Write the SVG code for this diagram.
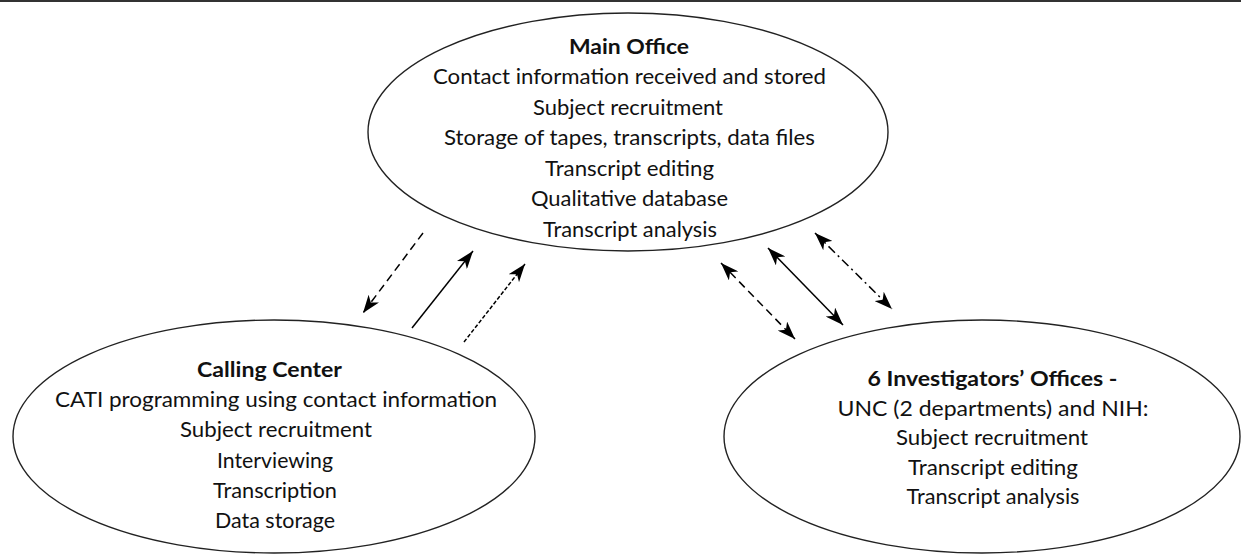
<svg xmlns="http://www.w3.org/2000/svg" width="1241" height="555" viewBox="0 0 1241 555">
<defs>
<style>
.bg{fill:#fff}
.topline{stroke:#333;stroke-width:2}
.node{fill:none;stroke:#222;stroke-width:1.4}
text{font-family:Lato,"Open Sans","Liberation Sans",sans-serif;font-size:21px;fill:#111;text-anchor:middle}
.title{font-weight:700}
.conn{fill:none;stroke:#000;stroke-width:1.5}
.dash{stroke-dasharray:8 5}
.dot{stroke-dasharray:4 2}
.dashdot{stroke-dasharray:9 4 2 4}
</style>
<marker id="ah" viewBox="0 0 18 13" refX="18" refY="6.5" markerWidth="18" markerHeight="13" markerUnits="userSpaceOnUse" orient="auto-start-reverse">
<path d="M0,0 L18,6.5 L0,13 L5,6.5 z" fill="#000"/>
</marker>
</defs>
<rect class="bg" x="0" y="0" width="1241" height="555"/>
<line class="topline" x1="0" y1="1" x2="1241" y2="1"/>

<g id="main-office">
<ellipse class="node" cx="628" cy="132" rx="260" ry="119"/>
<text class="title" x="629" y="54" textLength="120" lengthAdjust="spacingAndGlyphs">Main Office</text>
<text x="629.5" y="84" textLength="393" lengthAdjust="spacingAndGlyphs">Contact information received and stored</text>
<text x="628" y="114.5" textLength="190" lengthAdjust="spacingAndGlyphs">Subject recruitment</text>
<text x="629.5" y="145" textLength="371" lengthAdjust="spacingAndGlyphs">Storage of tapes, transcripts, data files</text>
<text x="629.5" y="175.5" textLength="169" lengthAdjust="spacingAndGlyphs">Transcript editing</text>
<text x="629.5" y="206" textLength="197" lengthAdjust="spacingAndGlyphs">Qualitative database</text>
<text x="630" y="236.5" textLength="174" lengthAdjust="spacingAndGlyphs">Transcript analysis</text>
</g>

<g id="calling-center">
<ellipse class="node" cx="274" cy="436.5" rx="261" ry="116.5"/>
<text class="title" x="269.5" y="377" textLength="145" lengthAdjust="spacingAndGlyphs">Calling Center</text>
<text x="276" y="407" textLength="442" lengthAdjust="spacingAndGlyphs">CATI programming using contact information</text>
<text x="276" y="437" textLength="192" lengthAdjust="spacingAndGlyphs">Subject recruitment</text>
<text x="275" y="467.5" textLength="116" lengthAdjust="spacingAndGlyphs">Interviewing</text>
<text x="275" y="498" textLength="124" lengthAdjust="spacingAndGlyphs">Transcription</text>
<text x="275" y="528" textLength="120" lengthAdjust="spacingAndGlyphs">Data storage</text>
</g>

<g id="investigators-offices">
<ellipse class="node" cx="982" cy="436.5" rx="258" ry="116.5"/>
<text class="title" x="992.5" y="386" textLength="250" lengthAdjust="spacingAndGlyphs">6 Investigators’ Offices -</text>
<text x="993" y="415.5" textLength="311" lengthAdjust="spacingAndGlyphs">UNC (2 departments) and NIH:</text>
<text x="992" y="445" textLength="192" lengthAdjust="spacingAndGlyphs">Subject recruitment</text>
<text x="993" y="474.5" textLength="170" lengthAdjust="spacingAndGlyphs">Transcript editing</text>
<text x="993" y="504" textLength="173" lengthAdjust="spacingAndGlyphs">Transcript analysis</text>
</g>

<g id="connectors">
<line class="conn dash" x1="423" y1="233" x2="363" y2="313" marker-end="url(#ah)"/>
<line class="conn" x1="412" y1="328" x2="473" y2="251" marker-end="url(#ah)"/>
<line class="conn dot" x1="464" y1="342" x2="525" y2="264" marker-end="url(#ah)"/>
<line class="conn dash" x1="721" y1="263" x2="795" y2="339" marker-start="url(#ah)" marker-end="url(#ah)"/>
<line class="conn" x1="768" y1="248" x2="843" y2="325" marker-start="url(#ah)" marker-end="url(#ah)"/>
<line class="conn dashdot" x1="815" y1="233" x2="892" y2="309" marker-start="url(#ah)" marker-end="url(#ah)"/>
</g>
</svg>
